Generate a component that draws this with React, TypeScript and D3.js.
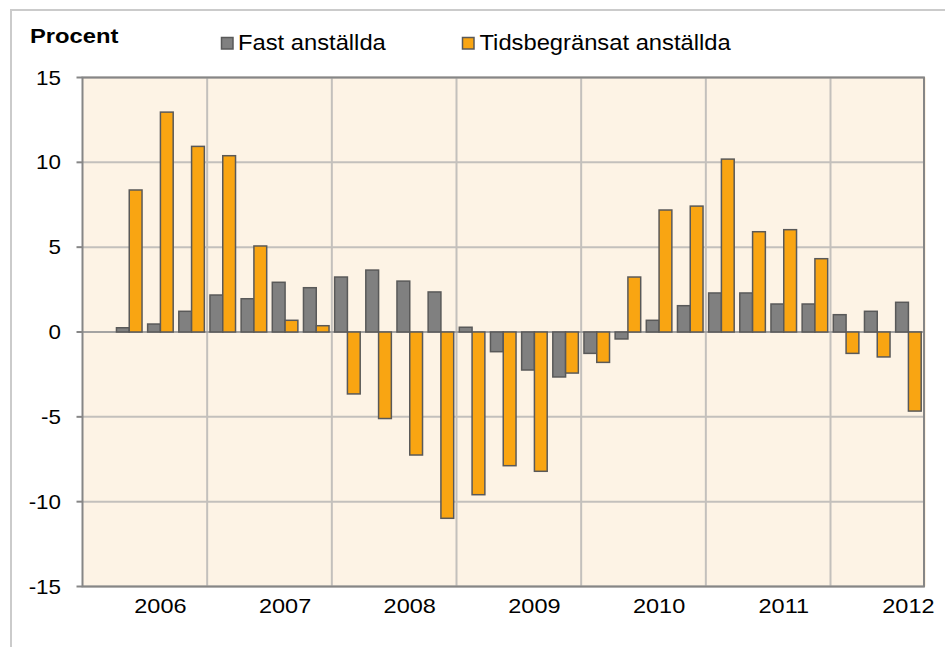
import React from "react";
import * as d3 from "d3";

const quarters: string[] = [
  "2006K1","2006K2","2006K3","2006K4",
  "2007K1","2007K2","2007K3","2007K4",
  "2008K1","2008K2","2008K3","2008K4",
  "2009K1","2009K2","2009K3","2009K4",
  "2010K1","2010K2","2010K3","2010K4",
  "2011K1","2011K2","2011K3","2011K4",
  "2012K1","2012K2","2012K3",
];

const fastAnstallda: (number | null)[] = [
  null, 0.25, 0.47, 1.22, 2.18, 1.96, 2.93, 2.61, 3.24, 3.65, 3.0, 2.36, 0.28,
  -1.16, -2.24, -2.65, -1.26, -0.41, 0.69, 1.55, 2.3, 2.3, 1.65, 1.65, 1.02, 1.22, 1.75,
];

const tidsbegransat: (number | null)[] = [
  null, 8.37, 12.96, 10.94, 10.39, 5.07, 0.69, 0.37, -3.65, -5.1, -7.25, -10.98, -9.59,
  -7.88, -8.21, -2.42, -1.79, 3.24, 7.19, 7.42, 10.19, 5.91, 6.03, 4.32, -1.26, -1.47, -4.66,
];

const yTicks: number[] = [-15, -10, -5, 0, 5, 10, 15];
const yearLabels: { at: string; label: string }[] = [
  { at: "2006K3", label: "2006" },
  { at: "2007K3", label: "2007" },
  { at: "2008K3", label: "2008" },
  { at: "2009K3", label: "2009" },
  { at: "2010K3", label: "2010" },
  { at: "2011K3", label: "2011" },
  { at: "2012K3", label: "2012" },
];
const gridAt: string[] = ["2007K1", "2008K1", "2009K1", "2010K1", "2011K1", "2012K1"];

const seriesNames = ["Fast anställda", "Tidsbegränsat anställda"];
const yTitle = "Procent";

const W = 945;
const H = 647;
const plot = { left: 82.5, right: 924, top: 77.5, bottom: 586.5 };
const COL_GREY = "#808080";
const COL_ORANGE = "#f9a512";
const STROKE = "#595959";
const FONT = "'Liberation Sans', Arial, sans-serif";

export default function App() {
  const x = d3
    .scaleBand<string>()
    .domain(quarters)
    .range([plot.left, plot.right])
    .paddingInner(0)
    .paddingOuter(0);
  const y = d3.scaleLinear().domain([-15, 15]).range([plot.bottom, plot.top]);
  const bw = x.bandwidth();
  const barW = bw * 0.41;

  const bar = (q: string, v: number | null, side: number, fill: string, key: string) => {
    if (v === null) return null;
    const cx = (x(q) as number) + bw / 2;
    const x0 = side === 0 ? cx - barW : cx;
    const y0 = Math.min(y(v), y(0));
    const h = Math.abs(y(v) - y(0));
    return (
      <rect key={key} x={x0} y={y0} width={barW} height={h} fill={fill} stroke={STROKE} strokeWidth={1.5} />
    );
  };

  const stretched = (
    tx: number,
    ty: number,
    sx: number,
    txt: string,
    anchor: string,
    size: number,
    weight: string | number = "normal",
    key?: string
  ) => (
    <g key={key} transform={`translate(${tx},${ty}) scale(${sx},1)`}>
      <text x={0} y={0} textAnchor={anchor as any} fontSize={size} fontWeight={weight} fontFamily={FONT} fill="#000">
        {txt}
      </text>
    </g>
  );

  return (
    <svg width={W} height={H} style={{ position: "absolute", left: 0, top: 0, background: "#fff" }}>
      <rect x={0} y={0} width={W} height={H} fill="#fff" />
      {/* outer chart frame */}
      <rect x={11} y={10} width={1100} height={1100} fill="none" stroke="#cbcbcb" strokeWidth={2} />

      {/* plot background */}
      <rect x={plot.left} y={plot.top} width={plot.right - plot.left + 2} height={plot.bottom - plot.top} fill="#fdf3e5" />

      {/* horizontal grid */}
      {yTicks.map((t) => (
        <line key={"hg" + t} x1={plot.left} x2={plot.right} y1={y(t)} y2={y(t)} stroke="#c3c0bc" strokeWidth={2} />
      ))}
      {/* vertical grid */}
      {gridAt.map((q) => (
        <line key={"vg" + q} x1={x(q) as number} x2={x(q) as number} y1={plot.top} y2={plot.bottom} stroke="#c3c0bc" strokeWidth={2} />
      ))}

      {/* zero line */}
      <line x1={plot.left} x2={plot.right} y1={y(0)} y2={y(0)} stroke="#9a9a9a" strokeWidth={1.5} />

      {/* bars */}
      {quarters.map((q, i) => bar(q, fastAnstallda[i], 0, COL_GREY, "g" + i))}
      {quarters.map((q, i) => bar(q, tidsbegransat[i], 1, COL_ORANGE, "o" + i))}

      {/* plot frame */}
      <rect x={plot.left} y={plot.top} width={plot.right - plot.left} height={plot.bottom - plot.top} fill="none" stroke="#868686" strokeWidth={2} />

      {/* y ticks and labels */}
      {yTicks.map((t) => (
        <g key={"yt" + t}>
          <line x1={plot.left - 6} x2={plot.left} y1={y(t)} y2={y(t)} stroke="#868686" strokeWidth={2} />
          {stretched(61, y(t) + 7, 1.12, String(t), "end", 20)}
        </g>
      ))}

      {/* x labels */}
      {yearLabels.map((d) =>
        stretched((x(d.at) as number) + bw / 2, 613, 1.12, d.label, "middle", 21, "normal", "xl" + d.label)
      )}

      {/* title */}
      {stretched(30, 42.7, 1.16, yTitle, "start", 20.5, "bold")}

      {/* legend */}
      <rect x={221.5} y={37.5} width={11.5} height={11.5} fill={COL_GREY} stroke={STROKE} strokeWidth={1.5} />
      {stretched(238, 50, 1.08, seriesNames[0], "start", 22)}
      <rect x={462.5} y={37.5} width={11.5} height={11.5} fill={COL_ORANGE} stroke={STROKE} strokeWidth={1.5} />
      {stretched(479.5, 50, 1.08, seriesNames[1], "start", 22)}
    </svg>
  );
}
